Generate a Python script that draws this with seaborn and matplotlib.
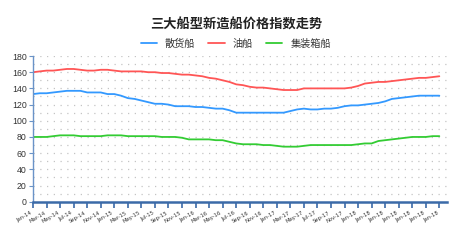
import numpy as np
import pandas as pd
import matplotlib
matplotlib.use("Agg")
import matplotlib.pyplot as plt
import seaborn as sns
from matplotlib.lines import Line2D

# ---- data ----
tick_labels = ["Jan-14", "Mar-14", "May-14", "Jul-14", "Sep-14", "Nov-14",
               "Jan-15", "Mar-15", "May-15", "Jul-15", "Sep-15", "Nov-15",
               "Jan-16", "Mar-16", "May-16", "Jul-16", "Sep-16", "Nov-16",
               "Jan-17", "Mar-17", "May-17", "Jul-17", "Sep-17", "Nov-17",
               "Jan-18", "Jan-18", "Jan-18", "Jan-18", "Jan-18", "Jan-18", "Jan-18"]

bulk = [133, 134, 134, 135, 136, 137, 137, 137, 135, 135, 135, 133, 133, 131, 128,
        127, 125, 123, 121, 121, 120, 118, 118, 118, 117, 117, 116, 115, 115, 113,
        110, 110, 110, 110, 110, 110, 110, 110, 112, 114, 115, 114, 114, 115, 115,
        116, 118, 119, 119, 120, 121, 122, 124, 127, 128, 129, 130, 131, 131, 131, 131]

tanker = [160, 161, 162, 162, 163, 164, 164, 163, 162, 162, 163, 163, 162, 161, 161,
          161, 161, 160, 160, 159, 159, 158, 157, 157, 156, 155, 153, 152, 150, 148,
          145, 144, 142, 141, 141, 140, 139, 138, 138, 138, 140, 140, 140, 140, 140,
          140, 140, 141, 143, 146, 147, 148, 148, 149, 150, 151, 152, 153, 153, 154, 155]

container = [80, 80, 80, 81, 82, 82, 82, 81, 81, 81, 81, 82, 82, 82, 81,
             81, 81, 81, 81, 80, 80, 80, 79, 77, 77, 77, 77, 76, 76, 74,
             72, 71, 71, 71, 70, 70, 69, 68, 68, 68, 69, 70, 70, 70, 70,
             70, 70, 70, 71, 72, 72, 75, 76, 77, 78, 79, 80, 80, 80, 81, 81]

series_names = ["散货船", "油船", "集装箱船"]
colors = ["#3399ff", "#ff5555", "#33cc33"]

months = np.arange(len(bulk))
df = pd.concat([
    pd.DataFrame({"month": months, "value": bulk, "type": series_names[0]}),
    pd.DataFrame({"month": months, "value": tanker, "type": series_names[1]}),
    pd.DataFrame({"month": months, "value": container, "type": series_names[2]}),
])

sns.set_theme(style="white")
plt.rcParams['font.family'] = ['Noto Sans CJK SC', 'DejaVu Sans']

fig = plt.figure(figsize=(4.67, 2.42), dpi=100)
ax = fig.add_axes([0.0707, 0.1665, 0.886, 0.602])

sns.lineplot(data=df, x="month", y="value", hue="type", palette=colors,
             hue_order=series_names, linewidth=1.3, legend=False, ax=ax)

ax.set_xlim(0, 61.1)
ax.set_ylim(0, 180)
ax.set_yticks(np.arange(0, 181, 20))
ax.set_yticklabels([str(v) for v in range(0, 181, 20)], fontsize=6.3, color="#333333",
                   family="Liberation Sans")
ax.set_xticks(np.arange(0, 61, 2))
ax.set_xticklabels(tick_labels, rotation=30, ha="right", fontsize=3.8,
                   color="#333333", family="DejaVu Sans")
ax.set_xlabel("")
ax.set_ylabel("")

# dotted grid
for yv in np.arange(10, 181, 10):
    ax.axhline(yv, color="#c4c4c4", linewidth=0.9, linestyle=(0, (1, 4.4)), zorder=0)

for side in ["top", "right"]:
    ax.spines[side].set_visible(False)
ax.spines["left"].set_color("#6a93c8")
ax.spines["left"].set_linewidth(1.0)
ax.spines["bottom"].set_color("#3b6aa8")
ax.spines["bottom"].set_linewidth(1.8)
ax.tick_params(axis="x", direction="out", length=4.5, width=1.2, color="#3b6aa8", pad=1.5)
ax.tick_params(axis="y", direction="out", length=3, width=0.8, color="#6a93c8", pad=1.5,
               left=True)
ax.tick_params(axis="x", bottom=True)

fig.text(0.505, 0.9, "三大船型新造船价格指数走势", ha="center", va="center",
         fontsize=9.5, fontweight="bold", color="#222222")

handles = [Line2D([0], [0], color=c, linewidth=1.3) for c in colors]
fig.legend(handles, series_names, loc="center", bbox_to_anchor=(0.505, 0.82), ncol=3,
           frameon=False, fontsize=7.3, handlelength=1.6, columnspacing=1.3,
           handletextpad=0.8, labelcolor="#333333")

fig.savefig("out.png", dpi=100)
